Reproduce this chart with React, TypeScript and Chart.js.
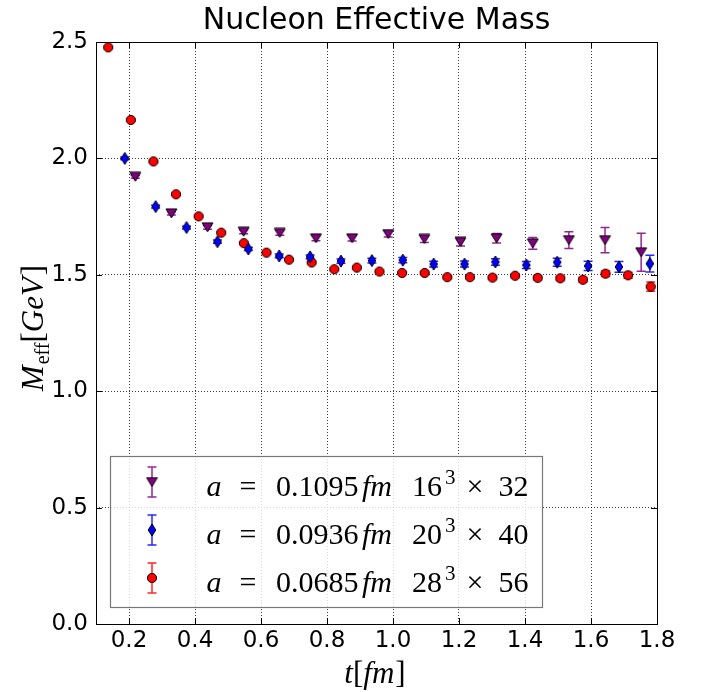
import React, { useEffect, useRef } from "react";
import { Chart, registerables } from "chart.js";

Chart.register(...registerables);

// ---------- data ----------
const xTicks = [0.2, 0.4, 0.6, 0.8, 1.0, 1.2, 1.4, 1.6, 1.8];
const yTicks = [0.0, 0.5, 1.0, 1.5, 2.0, 2.5];

// a = 0.1095 fm (purple, triangle down)
const tPurple = [0.219, 0.3285, 0.438, 0.5475, 0.657, 0.7665, 0.876, 0.9855, 1.095, 1.2045, 1.314, 1.4235, 1.533, 1.6425, 1.752];
const mPurple = [1.921, 1.764, 1.704, 1.685, 1.68, 1.657, 1.657, 1.675, 1.654, 1.641, 1.657, 1.635, 1.649, 1.649, 1.597];
const ePurple = [0.006, 0.007, 0.008, 0.009, 0.01, 0.011, 0.012, 0.013, 0.015, 0.017, 0.02, 0.025, 0.036, 0.054, 0.082];

// a = 0.0936 fm (blue, thin diamond)
const tBlue = [0.1872, 0.2808, 0.3744, 0.468, 0.5616, 0.6552, 0.7488, 0.8424, 0.936, 1.0296, 1.1232, 1.2168, 1.3104, 1.404, 1.4976, 1.5912, 1.6848, 1.7784];
const mBlue = [2.0, 1.793, 1.703, 1.642, 1.611, 1.581, 1.577, 1.559, 1.561, 1.563, 1.546, 1.546, 1.555, 1.542, 1.554, 1.538, 1.534, 1.548];
const eBlue = [0.006, 0.006, 0.006, 0.007, 0.007, 0.008, 0.008, 0.009, 0.01, 0.011, 0.012, 0.013, 0.014, 0.015, 0.017, 0.02, 0.023, 0.036];

// a = 0.0685 fm (red, circle)
const tRed = [0.137, 0.2055, 0.274, 0.3425, 0.411, 0.4795, 0.548, 0.6165, 0.685, 0.7535, 0.822, 0.8905, 0.959, 1.0275, 1.096, 1.1645, 1.233, 1.3015, 1.37, 1.4385, 1.507, 1.5755, 1.644, 1.7125, 1.781];
const mRed = [2.477, 2.165, 1.987, 1.846, 1.751, 1.681, 1.636, 1.595, 1.565, 1.553, 1.524, 1.531, 1.514, 1.508, 1.508, 1.49, 1.49, 1.488, 1.496, 1.487, 1.485, 1.479, 1.505, 1.498, 1.449];
const eRed = [0.005, 0.005, 0.005, 0.005, 0.005, 0.005, 0.005, 0.005, 0.005, 0.005, 0.006, 0.006, 0.006, 0.006, 0.007, 0.007, 0.008, 0.008, 0.009, 0.009, 0.01, 0.011, 0.012, 0.013, 0.02];

const legendA = ["0.1095", "0.0936", "0.0685"];
const legendL = ["16", "20", "28"];
const legendT = ["32", "40", "56"];

const titleText = "Nucleon Effective Mass";

const PURPLE = "#800080";
const BLUE = "#0000ff";
const RED = "#ff0000";

const ROMAN = (s: number) => `${s}px "Liberation Serif"`;
const ITALIC = (s: number) => `italic ${s}px "Liberation Serif"`;

function makeTriangle(): HTMLCanvasElement {
  const c = document.createElement("canvas");
  c.width = 13;
  c.height = 11;
  const g = c.getContext("2d")!;
  g.beginPath();
  g.moveTo(1, 1);
  g.lineTo(12, 1);
  g.lineTo(6.5, 10);
  g.closePath();
  g.fillStyle = PURPLE;
  g.fill();
  g.strokeStyle = "#000";
  g.lineWidth = 1;
  g.stroke();
  return c;
}

function makeDiamond(): HTMLCanvasElement {
  const c = document.createElement("canvas");
  c.width = 10;
  c.height = 14;
  const g = c.getContext("2d")!;
  g.beginPath();
  g.moveTo(5, 1);
  g.lineTo(8.8, 7);
  g.lineTo(5, 13);
  g.lineTo(1.2, 7);
  g.closePath();
  g.fillStyle = BLUE;
  g.fill();
  g.strokeStyle = "#000";
  g.lineWidth = 1;
  g.stroke();
  return c;
}

function makeCircle(): HTMLCanvasElement {
  const c = document.createElement("canvas");
  c.width = 12;
  c.height = 12;
  const g = c.getContext("2d")!;
  g.beginPath();
  g.arc(6, 6, 4.6, 0, Math.PI * 2);
  g.fillStyle = RED;
  g.fill();
  g.strokeStyle = "#000";
  g.lineWidth = 1;
  g.stroke();
  return c;
}

type Piece = { t: string; font: string; dy?: number; gap?: number };

function drawPieces(ctx: CanvasRenderingContext2D, pieces: Piece[], x: number, y: number) {
  let total = 0;
  for (const p of pieces) {
    ctx.font = p.font;
    total += ctx.measureText(p.t).width + (p.gap || 0);
  }
  let cx = x - total / 2;
  ctx.textAlign = "left";
  ctx.textBaseline = "alphabetic";
  for (const p of pieces) {
    ctx.font = p.font;
    ctx.fillText(p.t, cx, y + (p.dy || 0));
    cx += ctx.measureText(p.t).width + (p.gap || 0);
  }
}

export default function App() {
  const ref = useRef<HTMLCanvasElement | null>(null);

  useEffect(() => {
    const canvas = ref.current;
    if (!canvas) return;
    const tri = makeTriangle();
    const dia = makeDiamond();
    const cir = makeCircle();

    const errors = [ePurple, eBlue, eRed];
    const colors = [PURPLE, BLUE, RED];
    const markers = [tri, dia, cir];

    const errorBarPlugin = {
      id: "errorBars",
      beforeDatasetsDraw(chart: any) {
        const ctx = chart.ctx as CanvasRenderingContext2D;
        const ys = chart.scales.y;
        ctx.save();
        chart.data.datasets.forEach((ds: any, di: number) => {
          const meta = chart.getDatasetMeta(di);
          ctx.strokeStyle = colors[di];
          ctx.globalAlpha = 0.85;
          ctx.lineWidth = 1.5;
          meta.data.forEach((el: any, i: number) => {
            const v = ds.data[i].y;
            const e = errors[di][i];
            const y1 = ys.getPixelForValue(v + e);
            const y2 = ys.getPixelForValue(v - e);
            const x = el.x;
            ctx.beginPath();
            ctx.moveTo(x, y1);
            ctx.lineTo(x, y2);
            ctx.moveTo(x - 4.5, y1);
            ctx.lineTo(x + 4.5, y1);
            ctx.moveTo(x - 4.5, y2);
            ctx.lineTo(x + 4.5, y2);
            ctx.stroke();
          });
        });
        ctx.restore();
      },
    };

    const decorPlugin = {
      id: "decor",
      afterDatasetsDraw(chart: any) {
        const ctx = chart.ctx as CanvasRenderingContext2D;
        // legend box
        const lx = 110, ly = 456, lw = 432, lh = 151;
        ctx.save();
        ctx.fillStyle = "rgba(255,255,255,0.8)";
        ctx.fillRect(lx, ly, lw, lh);
        ctx.strokeStyle = "#777";
        ctx.lineWidth = 1.2;
        ctx.strokeRect(lx + 0.5, ly + 0.5, lw, lh);
        for (let i = 0; i < 3; i++) {
          const my = 482 + i * 48;
          const mx = 152;
          // error bar symbol
          ctx.strokeStyle = colors[i];
          ctx.globalAlpha = 0.85;
          ctx.lineWidth = 1.5;
          ctx.beginPath();
          ctx.moveTo(mx, my - 15);
          ctx.lineTo(mx, my + 15);
          ctx.moveTo(mx - 4.5, my - 15);
          ctx.lineTo(mx + 4.5, my - 15);
          ctx.moveTo(mx - 4.5, my + 15);
          ctx.lineTo(mx + 4.5, my + 15);
          ctx.stroke();
          ctx.globalAlpha = 1;
          const m = markers[i];
          ctx.drawImage(m, mx - m.width / 2, my - m.height / 2);
          // text
          const yb = my + 14;
          ctx.fillStyle = "#000";
          ctx.textBaseline = "alphabetic";
          ctx.textAlign = "left";
          ctx.font = ITALIC(30);
          ctx.fillText("a", 206.5, yb);
          ctx.textAlign = "center";
          ctx.font = ROMAN(30);
          ctx.fillText("=", 248, yb);
          ctx.textAlign = "left";
          ctx.fillText(legendA[i], 276, yb);
          ctx.font = ITALIC(30);
          ctx.fillText("fm", 362, yb);
          ctx.font = ROMAN(30);
          ctx.fillText(legendL[i], 412, yb);
          ctx.font = ROMAN(21);
          ctx.fillText("3", 445, yb - 12);
          ctx.font = ROMAN(30);
          ctx.textAlign = "center";
          ctx.fillText("\u00d7", 475, yb);
          ctx.textAlign = "left";
          ctx.fillText(legendT[i], 498.5, yb);
        }
        ctx.restore();
      },
      afterDraw(chart: any) {
        const ctx = chart.ctx as CanvasRenderingContext2D;
        const a = chart.chartArea;
        const xs = chart.scales.x;
        const ys = chart.scales.y;
        ctx.save();
        // frame
        ctx.strokeStyle = "#000";
        ctx.lineWidth = 1;
        ctx.strokeRect(Math.round(a.left) + 0.5, Math.round(a.top) + 0.5, Math.round(a.right - a.left), Math.round(a.bottom - a.top));
        // inward ticks
        ctx.beginPath();
        for (const v of xTicks) {
          const px = Math.round(xs.getPixelForValue(v)) + 0.5;
          ctx.moveTo(px, a.bottom);
          ctx.lineTo(px, a.bottom - 6);
          ctx.moveTo(px, a.top);
          ctx.lineTo(px, a.top + 6);
        }
        for (const v of yTicks) {
          const py = Math.round(ys.getPixelForValue(v)) + 0.5;
          ctx.moveTo(a.left, py);
          ctx.lineTo(a.left + 6, py);
          ctx.moveTo(a.right, py);
          ctx.lineTo(a.right - 6, py);
        }
        ctx.stroke();
        // title
        ctx.fillStyle = "#000";
        ctx.font = '30px "DejaVu Sans"';
        ctx.textAlign = "center";
        ctx.textBaseline = "alphabetic";
        ctx.fillText(titleText, (a.left + a.right) / 2, 29);
        // x title
        drawPieces(
          ctx,
          [
            { t: "t", font: ITALIC(31) },
            { t: "[", font: ROMAN(31) },
            { t: "fm", font: ITALIC(31), gap: 1 },
            { t: "]", font: ROMAN(31) },
          ],
          375,
          683
        );
        // y title
        ctx.save();
        ctx.translate(43, 328);
        ctx.rotate(-Math.PI / 2);
        drawPieces(
          ctx,
          [
            { t: "M", font: ITALIC(31), gap: 1 },
            { t: "eff", font: ROMAN(20), dy: 6 },
            { t: "[", font: ROMAN(31) },
            { t: "GeV", font: ITALIC(31), gap: 2 },
            { t: "]", font: ROMAN(31) },
          ],
          0,
          0
        );
        ctx.restore();
        ctx.restore();
      },
    };

    const mk = (ts: number[], ms: number[]) => ts.map((t, i) => ({ x: t, y: ms[i] }));

    const chart = new Chart(canvas, {
      type: "scatter",
      data: {
        datasets: [
          { label: "a = 0.1095fm", data: mk(tPurple, mPurple), pointStyle: tri as any, pointRadius: 6, showLine: false },
          { label: "a = 0.0936fm", data: mk(tBlue, mBlue), pointStyle: dia as any, pointRadius: 6, showLine: false },
          { label: "a = 0.0685fm", data: mk(tRed, mRed), pointStyle: cir as any, pointRadius: 6, showLine: false },
        ],
      },
      options: {
        animation: false,
        responsive: false,
        events: [],
        layout: { padding: { top: 42, right: 48, left: 0, bottom: 0 } },
        plugins: { legend: { display: false }, tooltip: { enabled: false }, title: { display: false } },
        scales: {
          x: {
            type: "linear",
            min: 0.1,
            max: 1.8,
            afterBuildTicks: (s: any) => {
              s.ticks = xTicks.map((v) => ({ value: v }));
            },
            afterFit: (s: any) => {
              s.height = 68;
            },
            ticks: {
              font: { family: "DejaVu Sans", size: 23 },
              color: "#000",
              padding: 3,
              maxRotation: 0,
              autoSkip: false,
              callback: (v: any) => Number(v).toFixed(1),
            },
            grid: { color: "rgba(0,0,0,0.75)", lineWidth: 1, drawTicks: false },
            border: { display: false, dash: [1, 2] },
          },
          y: {
            type: "linear",
            min: 0,
            max: 2.5,
            afterBuildTicks: (s: any) => {
              s.ticks = yTicks.map((v) => ({ value: v }));
            },
            afterFit: (s: any) => {
              s.width = 96;
            },
            ticks: {
              font: { family: "DejaVu Sans", size: 23 },
              color: "#000",
              padding: 8,
              autoSkip: false,
              callback: (v: any) => Number(v).toFixed(1),
            },
            grid: { color: "rgba(0,0,0,0.75)", lineWidth: 1, drawTicks: false },
            border: { display: false, dash: [1, 2] },
          },
        },
      },
      plugins: [errorBarPlugin, decorPlugin],
    });

    return () => chart.destroy();
  }, []);

  return (
    <div style={{ position: "fixed", left: 0, top: 0, width: 705, height: 692, background: "#fff" }}>
      <canvas ref={ref} width={705} height={692} style={{ width: 705, height: 692, display: "block" }} />
    </div>
  );
}
